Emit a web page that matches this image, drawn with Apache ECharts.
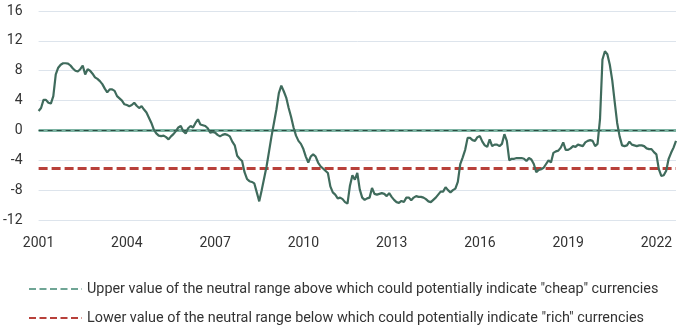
<!DOCTYPE html>
<html>
<head>
<meta charset="utf-8">
<script src="https://cdn.jsdelivr.net/npm/echarts@6/dist/echarts.min.js"></script>
<style>html,body{margin:0;padding:0;background:#fff;}#c{width:683px;height:333px;}</style>
</head>
<body>
<div id="c"></div>
<script>
// Monthly categories, Jan 2001 .. Sep 2022
const startYear = 2001, endYear = 2022, endMonth = 9;
const months = [];
for (let y = startYear; y <= endYear; y++) {
  for (let m = 1; m <= 12; m++) {
    if (y === endYear && m > endMonth) break;
    months.push(y + '-' + (m < 10 ? '0' + m : m));
  }
}
const yTicks = [-12, -8, -4, 0, 4, 8, 12, 16];
const upperNeutral = 0;
const lowerNeutral = -5;
const upperName = 'Upper value of the neutral range above which could potentially indicate "cheap" currencies';
const lowerName = 'Lower value of the neutral range below which could potentially indicate "rich" currencies';

const v2001 = [2.6, 3.0, 4.1, 4.1, 3.7, 3.6, 4.6, 7.5, 8.4, 8.8, 9.0, 9.0];
const v2002 = [8.96, 8.7, 8.3, 8.0, 7.9, 8.2, 8.7, 7.5, 8.2, 8.0, 7.6, 7.1];
const v2003 = [6.9, 6.6, 6.2, 5.6, 5.1, 5.5, 5.5, 5.3, 4.6, 4.3, 4.0, 3.5];
const v2004 = [3.4, 3.25, 3.4, 3.7, 3.3, 3.0, 3.25, 2.8, 2.4, 1.7, 1.0, 0.1];
const v2005 = [-0.4, -0.7, -0.76, -0.7, -0.9, -1.2, -0.8, -0.5, -0.1, 0.4, 0.6, -0.1];
const v2006 = [-0.4, 0.3, 0.6, 0.4, 1.0, 1.5, 0.8, 0.7, 0.6, 0.3, -0.3, -0.2];
const v2007 = [-0.3, -0.6, -0.8, -0.6, -0.5, -0.6, -0.8, -1.5, -2.0, -3.4, -3.8, -4.1];
const v2008 = [-5.6, -6.5, -6.8, -6.9, -7.1, -8.3, -9.5, -8.0, -6.4, -4.8, -2.8, -0.8];
const v2009 = [1.0, 2.8, 5.0, 6.0, 5.25, 4.4, 3.0, 1.8, 0.4, -0.7, -1.4, -1.8];
const v2010 = [-2.5, -3.5, -4.3, -3.5, -3.2, -3.5, -4.3, -4.8, -5.1, -5.4, -5.7, -7.5];
const v2011 = [-8.3, -8.6, -9.1, -9.0, -9.2, -9.6, -9.8, -7.4, -6.0, -6.6, -5.7, -7.9];
const v2012 = [-9.0, -9.3, -9.1, -9.0, -7.7, -8.5, -8.6, -8.5, -8.4, -8.5, -8.8, -8.4];
const v2013 = [-8.9, -9.3, -9.6, -9.7, -9.45, -9.6, -9.0, -9.0, -9.35, -9.0, -8.8, -8.9];
const v2014 = [-8.9, -9.0, -9.2, -9.5, -9.6, -9.3, -9.0, -8.6, -8.2, -8.2, -7.6, -8.0];
const v2015 = [-8.3, -8.0, -7.8, -6.9, -4.5, -3.6, -2.6, -1.0, -1.0, -1.3, -1.4, -0.9];
const v2016 = [-0.76, -1.5, -2.0, -2.2, -1.2, -2.1, -1.9, -1.9, -2.1, -1.8, -0.5, -1.4];
const v2017 = [-4.0, -3.8, -3.8, -3.7, -3.7, -3.7, -3.8, -4.1, -3.7, -3.9, -4.5, -5.6];
const v2018 = [-5.3, -5.2, -5.0, -4.5, -4.0, -4.3, -3.0, -2.8, -2.7, -2.3, -1.6, -2.6];
const v2019 = [-2.6, -2.4, -2.1, -2.2, -1.9, -2.0, -2.1, -1.6, -1.4, -1.3, -1.4, -2.1];
const v2020 = [-1.8, 1.5, 9.5, 10.6, 10.2, 8.8, 6.7, 3.8, 1.0, -0.8, -2.0, -2.1];
const v2021 = [-2.0, -1.5, -1.9, -2.0, -2.1, -2.0, -2.0, -2.1, -2.4, -2.5, -2.5, -2.9];
const v2022 = [-3.2, -5.2, -6.1, -6.0, -5.4, -3.8, -3.0, -2.3, -1.4];

const values = [].concat(v2001, v2002, v2003, v2004, v2005, v2006, v2007, v2008, v2009, v2010,
  v2011, v2012, v2013, v2014, v2015, v2016, v2017, v2018, v2019, v2020, v2021, v2022);

const chart = echarts.init(document.getElementById('c'), null, {renderer: 'canvas'});
const font = 'Roboto';
chart.setOption({
  animation: false,
  grid: {left: 38, right: 7, top: 11, bottom: 113},
  legend: {
    show: true,
    orient: 'vertical',
    left: 23,
    top: 277,
    itemWidth: 53,
    itemHeight: 14,
    itemGap: 15,
    data: [upperName, lowerName],
    itemStyle: {opacity: 0},
    textStyle: {fontFamily: font, fontSize: 14.4, color: '#333'}
  },
  xAxis: {
    type: 'category',
    data: months,
    boundaryGap: false,
    axisLine: {show: false},
    axisTick: {show: false},
    axisLabel: {
      interval: function (i) { return i % 36 === 0; },
      formatter: function (v) { return v.slice(0, 4); },
      fontFamily: font, fontSize: 14, color: '#333', margin: 16
    },
    splitLine: {show: false}
  },
  yAxis: {
    type: 'value',
    min: yTicks[0],
    max: yTicks[yTicks.length - 1],
    interval: 4,
    axisLine: {show: false},
    axisTick: {show: false},
    axisLabel: {fontFamily: font, fontSize: 14, color: '#333', margin: 16},
    splitLine: {lineStyle: {color: '#dde4ec', width: 1}}
  },
  series: [
    {
      name: upperName,
      type: 'line',
      data: [],
      symbol: 'none',
      z: 2,
      lineStyle: {color: '#6fa595', width: 3, type: [7, 3.5]},
      itemStyle: {color: '#6fa595'},
      markLine: {
        silent: true, symbol: 'none', label: {show: false}, animation: false,
        data: [
          {yAxis: upperNeutral, lineStyle: {color: '#7db3a3', width: 3, type: 'solid'}},
          {yAxis: upperNeutral, lineStyle: {color: '#2c4d42', width: 1, type: [5, 4]}}
        ]
      }
    },
    {
      name: lowerName,
      type: 'line',
      data: [],
      symbol: 'none',
      z: 2,
      lineStyle: {color: '#b8403a', width: 3, type: [7, 3.5]},
      itemStyle: {color: '#b8403a'},
      markLine: {
        silent: true, symbol: 'none', label: {show: false}, animation: false,
        data: [
          {yAxis: lowerNeutral, lineStyle: {color: '#b8403a', width: 3, type: [9, 4]}}
        ]
      }
    },
    {
      name: 'value',
      type: 'line',
      data: values,
      symbol: 'none',
      z: 5,
      lineStyle: {color: '#3f6b5c', width: 2.2},
      itemStyle: {color: '#3f6b5c'}
    }
  ]
});
</script>
</body>
</html>
